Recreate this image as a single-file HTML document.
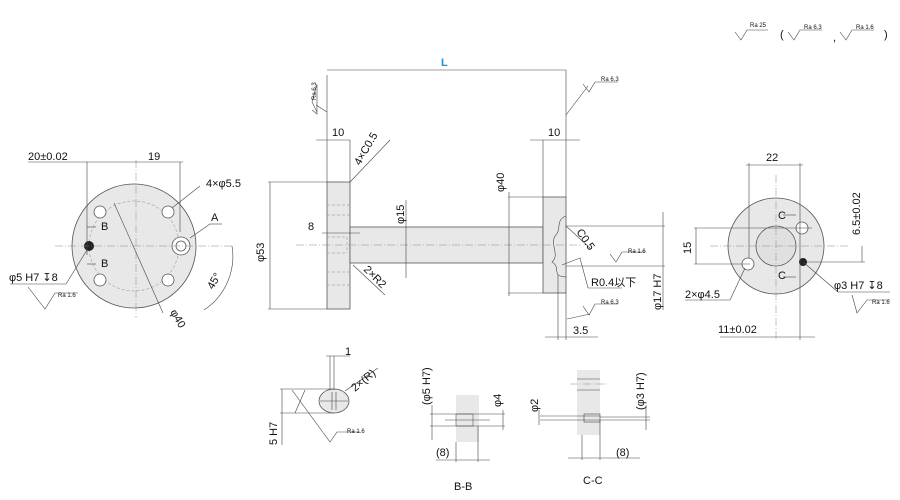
<!DOCTYPE html>
<html><head><meta charset="utf-8"><style>
body{margin:0;background:#fff}
svg{display:block}
text{font-family:"Liberation Sans","Noto Sans CJK JP",sans-serif;fill:#111}
.t{font-size:11px}
.s{font-size:6px}
.l{stroke:#444;stroke-width:0.6;fill:none}
.c{stroke:#888;stroke-width:0.5;fill:none;stroke-dasharray:8 2 1 2}
.d{stroke:#888;stroke-width:0.5;fill:none;stroke-dasharray:3 2}
.p{fill:#e8e8e8;stroke:#555;stroke-width:0.8}
</style></head><body>
<svg width="900" height="500" viewBox="0 0 900 500">
<!-- top roughness legend -->
<g class="l"><path d="M735,32 L741,40 L747,30 L768,30"/><path d="M788,32 L794,40 L800,30 L822,30"/><path d="M840,32 L846,40 L852,30 L874,30"/></g>
<text class="s" x="750" y="27">Ra 25</text><text class="s" x="804" y="29">Ra 6.3</text><text class="s" x="856" y="29">Ra 1.6</text>
<text class="t" x="780" y="38">(</text><text class="t" x="833" y="41">,</text><text class="t" x="884" y="38">)</text>

<!-- LEFT VIEW -->
<circle class="p" cx="134" cy="246" r="62"/>
<circle class="d" cx="134" cy="246" r="45"/>
<g class="p" style="fill:#fff"><circle cx="100" cy="212" r="6"/><circle cx="168" cy="212" r="6"/><circle cx="100" cy="280" r="6"/><circle cx="168" cy="280" r="6"/><circle cx="181" cy="246" r="9"/><circle cx="181" cy="246" r="5"/></g>
<circle cx="89" cy="246" r="5" fill="#222"/>
<g class="c"><line x1="55" y1="246" x2="232" y2="246"/><line x1="136" y1="160" x2="136" y2="318"/></g>
<g class="l"><line x1="87" y1="162" x2="87" y2="255"/><line x1="180" y1="162" x2="180" y2="232"/><line x1="84" y1="162" x2="183" y2="162"/>
<line x1="28" y1="162" x2="84" y2="162"/>
<line x1="114" y1="203" x2="163" y2="313"/>
<line x1="172" y1="208" x2="200" y2="186"/><line x1="190" y1="238" x2="210" y2="224"/><line x1="210" y1="224" x2="222" y2="224"/>
<path d="M204,310 A64,64 0 0 0 232,246"/>
<line x1="87" y1="227" x2="96" y2="227"/><line x1="87" y1="264" x2="96" y2="264"/>
<path d="M87,250 L66,284 L10,284"/><path d="M28,287 L45,309 L55,293 L78,293"/></g>
<text class="t" x="28" y="160">20±0.02</text><text class="t" x="148" y="160">19</text>
<text class="t" x="206" y="187">4×φ5.5</text><text class="t" x="211" y="221">A</text>
<text class="t" x="101" y="230">B</text><text class="t" x="101" y="267">B</text>
<text class="t" x="9" y="281">φ5 H7 ↧8</text><text class="s" x="58" y="297">Ra 1.6</text>
<text class="t" transform="translate(170,312) rotate(60)">φ40</text>
<text class="t" transform="translate(213,290) rotate(-60)">45°</text>

<!-- MIDDLE VIEW -->
<rect class="p" x="327" y="182" width="23" height="127"/>
<rect class="p" x="350" y="227" width="193" height="36"/>
<rect class="p" x="543" y="197" width="23" height="96"/>
<path class="l" d="M566,216 C555,220 562,230 555,236 C550,245 560,255 552,262 C562,268 550,276 566,277"/>
<g class="c"><line x1="296" y1="245" x2="580" y2="245"/></g>
<g class="d"><line x1="327" y1="205" x2="350" y2="205"/><line x1="327" y1="215" x2="350" y2="215"/><line x1="327" y1="272" x2="350" y2="272"/><line x1="327" y1="285" x2="350" y2="285"/><line x1="327" y1="237" x2="347" y2="237"/><line x1="327" y1="253" x2="347" y2="253"/><line x1="347" y1="237" x2="347" y2="253"/></g>
<g class="l"><line x1="327" y1="75" x2="327" y2="182"/><line x1="566" y1="70" x2="566" y2="197"/><line x1="327" y1="70" x2="566" y2="70"/>
<line x1="350" y1="140" x2="350" y2="182"/><line x1="543" y1="140" x2="543" y2="197"/><line x1="316" y1="140" x2="350" y2="140"/><line x1="530" y1="140" x2="580" y2="140"/>
<line x1="268" y1="182" x2="327" y2="182"/><line x1="268" y1="309" x2="327" y2="309"/><line x1="270" y1="182" x2="270" y2="309"/>
<line x1="322" y1="233" x2="360" y2="233"/>
<line x1="350" y1="182" x2="390" y2="140"/><line x1="353" y1="265" x2="385" y2="295"/>
<line x1="406" y1="200" x2="406" y2="278"/>
<line x1="508" y1="197" x2="543" y2="197"/><line x1="508" y1="293" x2="543" y2="293"/><line x1="509" y1="192" x2="509" y2="296"/>
<line x1="566" y1="226" x2="665" y2="226"/><line x1="566" y1="266" x2="665" y2="266"/><line x1="663" y1="212" x2="663" y2="310"/>
<line x1="566" y1="226" x2="590" y2="248"/><path d="M562,265 L580,258 L588,288 L622,288"/>
<line x1="558" y1="275" x2="558" y2="340"/><line x1="566" y1="293" x2="566" y2="340"/><line x1="545" y1="337" x2="598" y2="337"/>
<line x1="566" y1="115" x2="588" y2="86"/><path d="M583,84 L589,92 L595,82 L618,82"/>
<path d="M312,110 L317,114 L317,85"/><path d="M316,105 L327,112"/><path d="M316,112 L316,112"/>
<path d="M567,319 L590,314"/><path d="M583,306 L589,315 L595,304 L618,304"/>
<path d="M610,254 L616,262 L622,252 L645,252"/></g>
<path class="l" d="M317,112 L312,102 L317,84"/>
<text class="t" x="441" y="66" style="fill:#1a8fe0;font-weight:bold">L</text>
<text class="s" transform="translate(316,100) rotate(-90)">Ra 6.3</text>
<text class="s" x="601" y="81">Ra 6.3</text><text class="s" x="628" y="253">Ra 1.6</text><text class="s" x="601" y="304">Ra 6.3</text>
<text class="t" x="332" y="136">10</text><text class="t" x="548" y="136">10</text>
<text class="t" transform="translate(360,166) rotate(-60)">4×C0.5</text>
<text class="t" transform="translate(264,262) rotate(-90)">φ53</text>
<text class="t" x="308" y="230">8</text>
<text class="t" transform="translate(404,224) rotate(-90)">φ15</text>
<text class="t" transform="translate(504,192) rotate(-90)">φ40</text>
<text class="t" transform="translate(363,270) rotate(45)">2×R2</text>
<text class="t" transform="translate(576,232) rotate(55)">C0.5</text>
<text class="t" x="591" y="286">R0.4以下</text>
<text class="t" transform="translate(661,310) rotate(-90)">φ17 H7</text>
<text class="t" x="573" y="334">3.5</text>

<!-- RIGHT VIEW -->
<circle class="p" cx="776" cy="246" r="48"/>
<circle class="p" cx="776" cy="246" r="20" style="fill:#e0e0e0"/>
<g class="p" style="fill:#fff"><circle cx="802" cy="228" r="6"/><circle cx="748" cy="264" r="6"/></g>
<circle cx="803" cy="262" r="4" fill="#222"/>
<g class="c"><line x1="710" y1="246" x2="850" y2="246"/><line x1="776" y1="175" x2="776" y2="340"/></g>
<g class="l"><line x1="749" y1="163" x2="749" y2="258"/><line x1="800" y1="163" x2="800" y2="340"/><line x1="746" y1="165" x2="803" y2="165"/>
<line x1="694" y1="228" x2="812" y2="228"/><line x1="694" y1="264" x2="750" y2="264"/><line x1="696" y1="228" x2="696" y2="264"/>
<line x1="862" y1="246" x2="862" y2="262"/><line x1="806" y1="262" x2="865" y2="262"/>
<line x1="803" y1="262" x2="838" y2="292"/><line x1="838" y1="292" x2="890" y2="292"/>
<path d="M852,295 L857,313 L867,300 L890,300"/>
<line x1="745" y1="268" x2="730" y2="300"/><line x1="685" y1="300" x2="730" y2="300"/>
<line x1="720" y1="337" x2="815" y2="337"/>
<line x1="783" y1="215" x2="796" y2="215"/><line x1="783" y1="277" x2="796" y2="277"/></g>
<text class="t" x="766" y="161">22</text><text class="t" transform="translate(691,254) rotate(-90)">15</text>
<text class="t" transform="translate(860,235) rotate(-90)">6.5±0.02</text>
<text class="t" x="778" y="219">C</text><text class="t" x="778" y="279">C</text>
<text class="t" x="834" y="289">φ3 H7 ↧8</text><text class="s" x="872" y="304">Ra 1.6</text>
<text class="t" x="685" y="298">2×φ4.5</text><text class="t" x="718" y="333">11±0.02</text>

<!-- BOTTOM: slot detail -->
<ellipse class="p" cx="334" cy="401" rx="15" ry="12"/>
<g class="l"><line x1="330" y1="356" x2="330" y2="390"/><line x1="334" y1="356" x2="334" y2="390"/><line x1="326" y1="356" x2="350" y2="356"/>
<line x1="280" y1="389" x2="334" y2="389"/><line x1="280" y1="413" x2="334" y2="413"/><line x1="282" y1="389" x2="282" y2="445"/>
<path d="M292,390 L330,442 L337,432 L360,432"/><line x1="295" y1="413" x2="305" y2="390"/>
<line x1="345" y1="391" x2="378" y2="368"/><line x1="320" y1="401" x2="348" y2="401"/><line x1="332" y1="392" x2="332" y2="410"/><line x1="336" y1="392" x2="336" y2="410"/></g>
<text class="t" x="345" y="355">1</text><text class="t" transform="translate(355,392) rotate(-40)">2×(R)</text>
<text class="t" transform="translate(277,445) rotate(-90)">5 H7</text><text class="s" x="347" y="433">Ra 1.6</text>

<!-- B-B -->
<rect x="456" y="395" width="23" height="47" fill="#e8e8e8"/>
<rect x="456" y="414" width="17" height="12" fill="none" stroke="#555" stroke-width="0.6"/>
<g class="l"><line x1="430" y1="414" x2="505" y2="414"/><line x1="430" y1="426" x2="505" y2="426"/><line x1="432" y1="405" x2="432" y2="440"/><line x1="503" y1="410" x2="503" y2="430"/>
<line x1="456" y1="442" x2="456" y2="462"/><line x1="478" y1="426" x2="478" y2="462"/><line x1="436" y1="460" x2="490" y2="460"/>
<line x1="445" y1="420" x2="490" y2="420"/></g>
<text class="t" transform="translate(430,405) rotate(-90)">(φ5 H7)</text><text class="t" transform="translate(501,407) rotate(-90)">φ4</text>
<text class="t" x="436" y="456">(8)</text><text class="t" x="454" y="490">B-B</text>

<!-- C-C -->
<rect x="577" y="370" width="23" height="65" fill="#e8e8e8"/>
<g class="l"><line x1="577" y1="379" x2="600" y2="379"/><line x1="577" y1="390" x2="600" y2="390"/>
<rect x="584" y="414" width="16" height="8"/><line x1="540" y1="416" x2="600" y2="416"/><line x1="540" y1="420" x2="600" y2="420"/>
<line x1="600" y1="417" x2="650" y2="417"/><line x1="600" y1="420" x2="650" y2="420"/>
<line x1="539" y1="410" x2="539" y2="425"/><line x1="646" y1="405" x2="646" y2="430"/>
<line x1="582" y1="435" x2="582" y2="460"/><line x1="600" y1="420" x2="600" y2="460"/><line x1="568" y1="458" x2="640" y2="458"/></g>
<g class="c"><line x1="570" y1="384" x2="608" y2="384"/></g>
<text class="t" transform="translate(538,412) rotate(-90)">φ2</text><text class="t" transform="translate(644,410) rotate(-90)">(φ3 H7)</text>
<text class="t" x="616" y="456">(8)</text><text class="t" x="583" y="484">C-C</text>
</svg>
</body></html>
